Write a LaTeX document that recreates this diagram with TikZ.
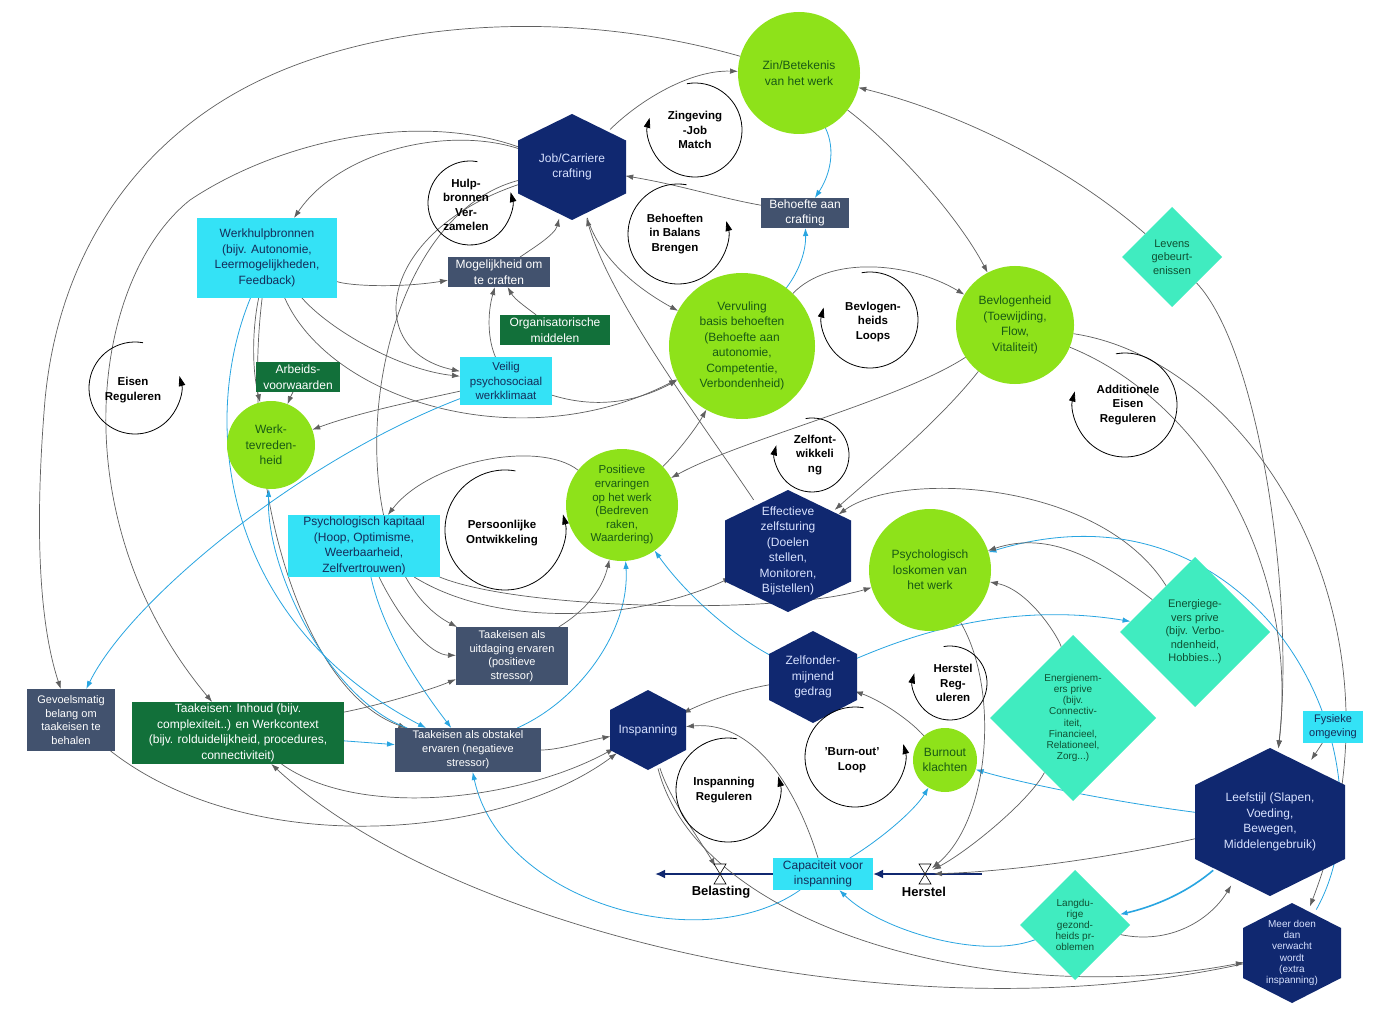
\documentclass[tikz,border=0pt]{standalone}
\usepackage{fontspec}
\setmainfont{Liberation Sans}
\usetikzlibrary{shapes.geometric,arrows.meta}
\pgfdeclarelayer{bg}
\pgfsetlayers{bg,main}
\definecolor{limef}{RGB}{142,226,26}
\definecolor{gtext}{RGB}{25,90,20}
\definecolor{navyf}{RGB}{16,40,112}
\definecolor{hextext}{RGB}{215,225,255}
\definecolor{slatef}{RGB}{66,82,110}
\definecolor{dkgreenf}{RGB}{18,112,58}
\definecolor{cyanf}{RGB}{52,226,246}
\definecolor{cyantext}{RGB}{20,45,90}
\definecolor{tealf}{RGB}{64,236,192}
\definecolor{tealtext}{RGB}{15,80,50}
\definecolor{connc}{RGB}{95,95,95}
\definecolor{bluec}{RGB}{40,165,225}
\newcommand{\hexfill}[4]{\fill[navyf] (#1,#2-#4) -- (#1+#3,#2-#4/2) -- (#1+#3,#2+#4/2) -- (#1,#2+#4) -- (#1-#3,#2+#4/2) -- (#1-#3,#2-#4/2) -- cycle;}
\newcommand{\loopcw}[3]{\draw[loopl] (#1,#2) ++(-100:#3) arc[start angle=-100, end angle=195, radius=#3];}
\newcommand{\loopccw}[3]{\draw[loopl] (#1,#2) ++(-80:#3) arc[start angle=-80, end angle=-375, radius=#3];}
\newcommand{\valve}[2]{\draw[fill=white, line width=0.6pt] (#1-6,#2-10) -- (#1+6,#2-10) -- (#1-6,#2+10) -- (#1+6,#2+10) -- cycle;}
\begin{document}
\begin{tikzpicture}[x=1pt,y=-1pt,
  base/.style={inner sep=0pt, outer sep=0pt, draw=none},
  gcirc/.style={base, circle, fill=limef},
  hexb/.style={base, ellipse},
  sbox/.style={base, rectangle, fill=slatef},
  dbox/.style={base, rectangle, fill=dkgreenf},
  cbox/.style={base, rectangle, fill=cyanf},
  dia/.style={base, diamond, fill=tealf},
  tx/.style={align=center, inner sep=0pt, font=\fontsize{12}{15.5}\selectfont},
  gtx/.style={tx, text=gtext},
  htx/.style={tx, text=hextext},
  wtx/.style={tx, text=white},
  ctx/.style={tx, text=cyantext},
  ttx/.style={tx, text=tealtext},
  small/.style={font=\fontsize{10}{11.2}\selectfont},
  conn/.style={draw=connc, line width=0.7pt, -{Latex[length=8pt,width=5.5pt]}},
  bconn/.style={draw=bluec, line width=0.8pt, -{Latex[length=8pt,width=5.5pt]}},
  loopl/.style={draw=black, line width=0.8pt, -{Triangle[length=10pt,width=6.5pt]}},
  looptx/.style={align=center, inner sep=0pt, font=\bfseries\fontsize{11.5}{14.5}\selectfont},
  flowl/.style={draw=navyf, line width=2.6pt, -{Latex[length=10pt,width=9pt]}}
]
\useasboundingbox (0,0) rectangle (1384,1016);

% ---------- green circles
\node[gcirc,minimum size=122pt] (zin) at (799,73) {};
\node[gtx] (zin-t) at (zin) {Zin/Betekenis\\van het werk};
\node[gcirc,minimum size=146pt] (verv) at (742,346) {};
\node[gtx] (verv-t) at (verv) {Vervuling\\basis behoeften\\(Behoefte aan\\autonomie,\\Competentie,\\Verbondenheid)};
\node[gcirc,minimum size=118pt] (bevl) at (1015,325) {};
\node[gtx] (bevl-t) at (bevl) {Bevlogenheid\\(Toewijding,\\Flow,\\Vitaliteit)};
\node[gcirc,minimum size=88pt] (werkt) at (271,445) {};
\node[gtx] (werkt-t) at (werkt) {Werk-\\tevreden-\\heid};
\node[gcirc,minimum size=112pt] (posit) at (622,505) {};
\node[gtx,font=\fontsize{11.5}{13.6}\selectfont] (posit-t) at (posit) {Positieve\\ervaringen\\op het werk\\(Bedreven\\raken,\\Waardering)};
\node[gcirc,minimum size=122pt] (losk) at (930,570) {};
\node[gtx] (losk-t) at (losk) {Psychologisch\\loskomen van\\het werk};
\node[gcirc,minimum size=64pt] (burn) at (945,760) {};
\node[gtx] (burn-t) at (burn) {Burnout\\klachten};

% ---------- hexagons
\hexfill{572}{167}{54}{53}
\node[hexb,minimum width=108pt,minimum height=106pt] (job) at (572,167) {};
\node[htx] (job-t) at (job) {Job/Carriere\\crafting};
\hexfill{788}{551}{63}{61}
\node[hexb,minimum width=126pt,minimum height=122pt] (eff) at (788,551) {};
\node[htx] (eff-t) at (eff) {Effectieve\\zelfsturing\\(Doelen\\stellen,\\Monitoren,\\Bijstellen)};
\hexfill{813}{677}{44}{46}
\node[hexb,minimum width=88pt,minimum height=92pt] (zelfo) at (813,677) {};
\node[htx] (zelfo-t) at (zelfo) {Zelfonder-\\mijnend\\gedrag};
\hexfill{648}{730}{38}{40}
\node[hexb,minimum width=76pt,minimum height=80pt] (insp) at (648,730) {};
\node[htx] (insp-t) at (insp) {Inspanning};
\hexfill{1270}{822}{75}{74}
\node[hexb,minimum width=150pt,minimum height=148pt] (leef) at (1270,822) {};
\node[htx] (leef-t) at (leef) {Leefstijl (Slapen,\\Voeding,\\Bewegen,\\Middelengebruik)};
\hexfill{1292}{953}{49}{50}
\node[hexb,minimum width=98pt,minimum height=100pt] (meer) at (1292,953) {};
\node[htx,small] (meer-t) at (meer) {Meer doen\\dan\\verwacht\\wordt\\(extra\\inspanning)};

% ---------- slate boxes
\node[sbox,minimum width=102pt,minimum height=30pt] (mog) at (499,272) {};
\node[wtx] (mog-t) at (mog) {Mogelijkheid om\\te craften};
\node[sbox,minimum width=88pt,minimum height=30pt] (beh) at (805,213) {};
\node[wtx] (beh-t) at (beh) {Behoefte aan\\crafting};
\node[sbox,minimum width=112pt,minimum height=58pt] (uitd) at (512,656) {};
\node[wtx,font=\fontsize{11}{13.5}\selectfont] (uitd-t) at (uitd) {Taakeisen als\\uitdaging ervaren\\(positieve\\stressor)};
\node[sbox,minimum width=146pt,minimum height=44pt] (obst) at (468,750) {};
\node[wtx,font=\fontsize{11}{14}\selectfont] (obst-t) at (obst) {Taakeisen als obstakel\\ervaren (negatieve\\stressor)};
\node[sbox,minimum width=88pt,minimum height=62pt] (gev) at (71,720) {};
\node[wtx,font=\fontsize{11}{13.5}\selectfont] (gev-t) at (gev) {Gevoelsmatig\\belang om\\taakeisen te\\behalen};

% ---------- dark green boxes
\node[dbox,minimum width=110pt,minimum height=30pt] (org) at (555,330) {};
\node[wtx] (org-t) at (org) {Organisatorische\\middelen};
\node[dbox,minimum width=84pt,minimum height=30pt] (arb) at (298,377) {};
\node[wtx] (arb-t) at (arb) {Arbeids-\\voorwaarden};
\node[dbox,minimum width=212pt,minimum height=62pt] (inh) at (238,733) {};
\node[wtx] (inh-t) at (inh) {Taakeisen: Inhoud (bijv.\\complexiteit..) en Werkcontext\\(bijv. rolduidelijkheid, procedures,\\connectiviteit)};

% ---------- cyan boxes
\node[cbox,minimum width=140pt,minimum height=80pt] (werkh) at (267,258) {};
\node[ctx] (werkh-t) at (werkh) {Werkhulpbronnen\\(bijv. Autonomie,\\Leermogelijkheden,\\Feedback)};
\node[cbox,minimum width=92pt,minimum height=48pt] (veil) at (506,381) {};
\node[ctx,font=\fontsize{11.5}{14.5}\selectfont] (veil-t) at (veil) {Veilig\\psychosociaal\\werkklimaat};
\node[cbox,minimum width=152pt,minimum height=62pt] (psyk) at (364,546) {};
\node[ctx] (psyk-t) at (psyk) {Psychologisch kapitaal\\(Hoop, Optimisme,\\Weerbaarheid,\\Zelfvertrouwen)};
\node[cbox,minimum width=100pt,minimum height=32pt] (cap) at (823,874) {};
\node[ctx] (cap-t) at (cap) {Capaciteit voor\\inspanning};
\node[cbox,minimum width=60pt,minimum height=32pt] (fys) at (1333,727) {};
\node[ctx,font=\fontsize{11}{14}\selectfont] (fys-t) at (fys) {Fysieke\\omgeving};

% ---------- diamonds
\node[dia,minimum width=100pt,minimum height=100pt] (lev) at (1172,257) {};
\node[ttx,font=\fontsize{11}{13.5}\selectfont] (lev-t) at (lev) {Levens\\gebeurt-\\enissen};
\node[dia,minimum width=150pt,minimum height=150pt] (egev) at (1195,632) {};
\node[ttx,font=\fontsize{11}{13.5}\selectfont] (egev-t) at (egev) {Energiege-\\vers prive\\(bijv. Verbo-\\ndenheid,\\Hobbies...)};
\node[dia,minimum width=166pt,minimum height=166pt] (enem) at (1073,718) {};
\node[ttx,small] (enem-t) at (enem) {Energienem-\\ers prive\\(bijv.\\Connectiv-\\iteit,\\Financieel,\\Relationeel,\\Zorg...)};
\node[dia,minimum width=110pt,minimum height=110pt] (lang) at (1075,925) {};
\node[ttx,small] (lang-t) at (lang) {Langdu-\\rige\\gezond-\\heids pr-\\oblemen};

% ---------- loops
\loopcw{695}{130}{47}
\node[looptx] (l-zing) at (695,130) {Zingeving\\-Job\\Match};
\loopccw{470}{203}{42}
\node[looptx] (l-hulp) at (466,205) {Hulp-\\bronnen\\Ver-\\zamelen};
\loopccw{678}{234}{50}
\node[looptx] (l-behb) at (675,234) {Behoeften\\in Balans\\Brengen};
\loopccw{135}{388}{46}
\node[looptx] (l-eisen) at (133,390) {Eisen\\Reguleren};
\loopcw{870}{320}{48}
\node[looptx] (l-bevl) at (873,322) {Bevlogen-\\heids\\Loops};
\loopcw{1125}{405}{52}
\node[looptx] (l-add) at (1128,405) {Additionele\\Eisen\\Reguleren};
\loopcw{812}{455}{37}
\node[looptx] (l-zelf) at (815,455) {Zelfont-\\wikkeli\\ng};
\loopccw{505}{530}{60}
\node[looptx] (l-pers) at (502,533) {Persoonlijke\\Ontwikkeling};
\loopcw{950}{683}{37}
\node[looptx] (l-herst) at (953,683) {Herstel\\Reg-\\uleren};
\loopccw{855}{757}{50}
\node[looptx] (l-burn) at (852,760) {'Burn-out'\\Loop};
\loopccw{728}{790}{52}
\node[looptx] (l-insp) at (724,790) {Inspanning\\Reguleren};

% ---------- stock and flow
\coordinate (sink) at (655,874);
\coordinate (src) at (982,874);
\coordinate (vbel) at (720,874);
\coordinate (vher) at (925,874);
\begin{pgfonlayer}{bg}
\fill[white] (0,0) rectangle (1384,1016);
\draw[flowl] (cap) -- (sink);
\draw[flowl] (src) -- (cap);
\end{pgfonlayer}
\valve{720}{874}
\valve{925}{874}
\node[looptx,font=\bfseries\fontsize{13}{15}\selectfont] (belasting) at (721,892) {Belasting};
\node[looptx,font=\bfseries\fontsize{13}{15}\selectfont] (herstel) at (924,892) {Herstel};

% ---------- connectors
\begin{pgfonlayer}{bg}
\draw[conn] (zin) .. controls (560,5) and (380,25) .. (267,77) .. controls (150,130) and (60,240) .. (45,400) .. controls (35,520) and (38,620) .. (gev);
\draw[conn] (job) .. controls (420,110) and (280,140) .. (190,200) .. controls (90,280) and (60,520) .. (inh);
\draw[conn] (job) .. controls (450,125) and (340,150) .. (werkh);
\draw[conn] (werkh) .. controls (350,286) and (400,288) .. (mog);
\draw[conn] (mog) .. controls (530,250) and (555,235) .. (job);
\draw[conn] (org) .. controls (530,310) and (515,300) .. (mog);
\draw[conn] (veil) .. controls (488,340) and (487,315) .. (mog);
\draw[conn] (job) .. controls (640,100) and (690,70) .. (zin);
\draw[conn] (beh) .. controls (720,198) and (680,185) .. (job);
\draw[bconn] (zin) .. controls (836,150) and (830,175) .. (beh);
\draw[bconn] (verv) .. controls (800,270) and (806,250) .. (beh);
\draw[conn] (zin) .. controls (900,150) and (960,220) .. (bevl);
\draw[conn] (lev) .. controls (1060,160) and (950,110) .. (zin);
\draw[conn] (lev) .. controls (1260,350) and (1295,600) .. (leef);
\draw[conn] (job) .. controls (600,260) and (640,290) .. (verv);
\draw[conn] (verv) .. controls (830,255) and (910,262) .. (bevl);
\draw[conn] (werkh) .. controls (252,330) and (252,370) .. (werkt);
\draw[conn] (arb) .. controls (293,392) and (290,398) .. (werkt);
\draw[conn] (veil) .. controls (420,400) and (360,412) .. (werkt);
\draw[conn] (werkh) .. controls (330,330) and (400,370) .. (veil);
\draw[conn] (job) .. controls (380,230) and (360,350) .. (veil);
\draw[conn] (veil) .. controls (600,410) and (640,400) .. (verv);
\draw[conn] (werkh) .. controls (330,400) and (520,460) .. (verv);
\draw[conn] (posit) .. controls (675,455) and (695,430) .. (verv);
\draw[conn] (bevl) .. controls (900,400) and (740,440) .. (posit);
\draw[conn] (bevl) .. controls (940,420) and (880,470) .. (eff);
\draw[conn] (egev) .. controls (1100,480) and (900,470) .. (eff);
\draw[conn] (eff) .. controls (700,420) and (610,300) .. (job);
\draw[conn] (posit) .. controls (540,440) and (430,460) .. (psyk);
\draw[conn] (uitd) .. controls (570,620) and (600,600) .. (posit);
\draw[bconn] (zelfo) .. controls (740,640) and (690,600) .. (posit);
\draw[bconn] (obst) .. controls (580,700) and (630,630) .. (posit);
\draw[conn] (psyk) .. controls (500,630) and (640,620) .. (eff);
\draw[conn] (psyk) .. controls (520,610) and (780,615) .. (losk);
\draw[conn] (psyk) .. controls (400,620) and (430,655) .. (uitd);
\draw[conn] (job) .. controls (360,220) and (330,560) .. (uitd);
\draw[bconn] (psyk) .. controls (385,640) and (430,700) .. (obst);
\draw[conn] (inh) .. controls (380,705) and (430,690) .. (uitd);
\draw[bconn] (inh) -- (obst);
\draw[conn] (werkh) .. controls (240,480) and (300,690) .. (obst);
\draw[bconn] (werkh) .. controls (200,420) and (220,620) .. (obst);
\draw[bconn] (obst) .. controls (330,700) and (265,570) .. (werkt);
\draw[bconn] (cap) .. controls (700,960) and (500,900) .. (obst);
\draw[conn, shorten >=9pt] (insp) .. controls (670,800) and (700,840) .. (vbel);
\draw[conn] (cap) .. controls (800,800) and (760,720) .. (insp);
\draw[conn] (zelfo) .. controls (740,690) and (710,700) .. (insp);
\draw[conn] (burn) .. controls (910,720) and (880,700) .. (zelfo);
\draw[bconn] (cap) .. controls (880,840) and (915,810) .. (burn);
\draw[bconn] (leef) .. controls (1100,800) and (1010,780) .. (burn);
\draw[bconn, line width=1.6pt] (leef) .. controls (1190,890) and (1160,905) .. (lang);
\draw[bconn] (lang) .. controls (980,960) and (880,930) .. (cap);
\draw[conn] (lang) .. controls (1170,945) and (1210,920) .. (leef);
\draw[conn] (meer) .. controls (900,1040) and (450,930) .. (inh);
\draw[conn] (insp) .. controls (700,930) and (1000,1010) .. (meer);
\draw[conn] (gev) .. controls (250,860) and (500,840) .. (insp);
\draw[conn] (obst) .. controls (560,750) and (590,740) .. (insp);
\draw[conn] (inh) .. controls (360,820) and (520,800) .. (insp);
\draw[conn] (fys) -- (leef);
\draw[bconn] (meer) .. controls (1400,760) and (1260,470) .. (losk);
\draw[conn] (bevl) .. controls (1250,360) and (1420,620) .. (meer);
\draw[conn] (bevl) .. controls (1200,400) and (1300,560) .. (leef);
\draw[conn] (egev) .. controls (1100,560) and (1050,530) .. (losk);
\draw[conn] (enem) .. controls (1060,640) and (1030,590) .. (losk);
\draw[bconn] (zelfo) .. controls (900,640) and (1000,600) .. (egev);
\draw[bconn] (veil) .. controls (300,460) and (130,600) .. (gev);
\draw[conn, shorten >=9pt] (losk) .. controls (1000,690) and (990,820) .. (vher);
\draw[conn, shorten >=9pt] (enem) .. controls (1030,800) and (970,850) .. (vher);
\draw[conn, shorten >=9pt] (leef) .. controls (1100,860) and (1000,872) .. (vher);
\end{pgfonlayer}
\end{tikzpicture}
\end{document}
